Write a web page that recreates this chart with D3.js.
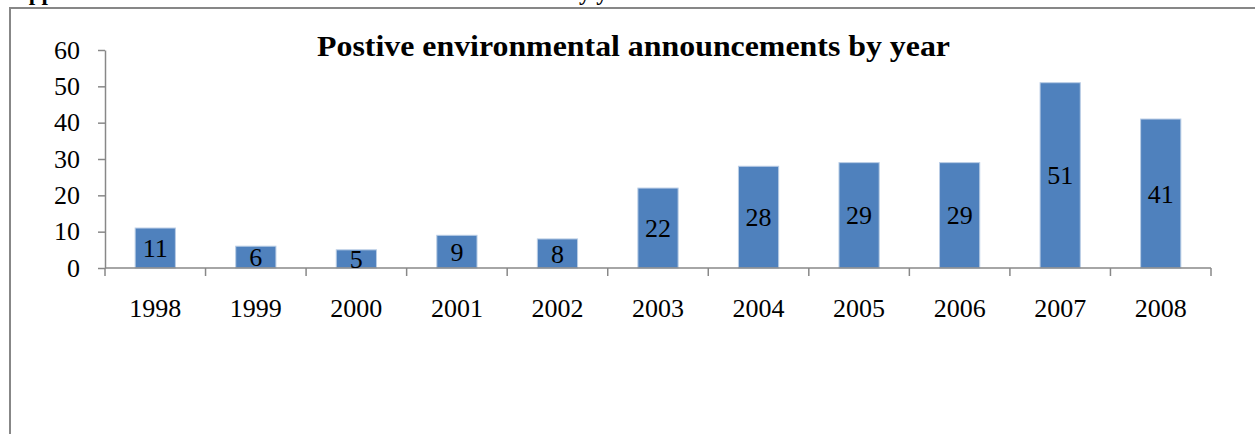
<!DOCTYPE html>
<html>
<head>
<meta charset="utf-8">
<script src="https://cdn.jsdelivr.net/npm/d3@7"></script>
<style>
  body { margin: 0; background: #fff; }
  svg text { font-family: "Liberation Serif", "Times New Roman", serif; }
</style>
</head>
<body>
<div id="myDataVis"></div>
<script>
// chart data
var years = ["1998", "1999", "2000", "2001", "2002", "2003", "2004", "2005", "2006", "2007", "2008"];
var counts = [11, 6, 5, 9, 8, 22, 28, 29, 29, 51, 41];
var yTicks = [0, 10, 20, 30, 40, 50, 60];

document.addEventListener('DOMContentLoaded', function () {
    var W = 1255, H = 434;
    var svg = d3.select('#myDataVis').append('svg')
        .attr('width', W)
        .attr('height', H);

    // heading above the frame, cut off by the page top
    svg.append('text')
        .attr('x', 12)
        .attr('y', -0.5)
        .attr('textLength', 628)
        .attr('lengthAdjust', 'spacingAndGlyphs')
        .style('font-size', '24px')
        .style('font-weight', 'bold')
        .text('Appendix C: Number of environmental announcements by year');

    // chart frame
    svg.append('rect')
        .attr('x', 10)
        .attr('y', 8)
        .attr('width', W + 20)
        .attr('height', H + 20)
        .attr('fill', 'none')
        .attr('stroke', '#878787')
        .attr('stroke-width', 2);

    var x = d3.scaleBand()
        .domain(years)
        .range([105, 1211])
        .paddingInner(0.6)
        .paddingOuter(0.3);

    var y = d3.scaleLinear()
        .domain([0, 60])
        .range([268, 50]);

    // y axis
    var yAxis = svg.append('g')
        .attr('transform', 'translate(105,0)')
        .call(d3.axisLeft(y).tickValues(yTicks).tickSize(7).tickPadding(18).tickSizeOuter(0));
    yAxis.select('.domain').attr('stroke', '#888').attr('stroke-width', 1.5);
    yAxis.selectAll('.tick line').attr('stroke', '#888').attr('stroke-width', 1.5);
    yAxis.selectAll('.tick text')
        .style('font-size', '26px')
        .attr('fill', '#000')
        .attr('font-family', null);

    // bars
    svg.selectAll('.bar')
        .data(counts)
        .enter()
        .append('rect')
        .attr('class', 'bar')
        .attr('x', function(d, i) { return x(years[i]); })
        .attr('y', function(d) { return y(d); })
        .attr('width', x.bandwidth())
        .attr('height', function(d) { return y(0) - y(d); })
        .attr('fill', '#4F81BD')
        .attr('stroke', '#B9CDE5')
        .attr('stroke-width', 1);

    // x axis (ticks at category boundaries)
    var step = (1211 - 105) / years.length;
    var xg = svg.append('g');
    xg.append('line')
        .attr('x1', 105).attr('x2', 1211)
        .attr('y1', y(0)).attr('y2', y(0))
        .attr('stroke', '#888').attr('stroke-width', 1.5);
    xg.selectAll('.xtick')
        .data(d3.range(years.length + 1))
        .enter()
        .append('line')
        .attr('x1', function(i) { return 105 + i * step; })
        .attr('x2', function(i) { return 105 + i * step; })
        .attr('y1', y(0))
        .attr('y2', y(0) + 8)
        .attr('stroke', '#888').attr('stroke-width', 1.5);
    xg.selectAll('.xlab')
        .data(years)
        .enter()
        .append('text')
        .attr('x', function(d) { return x(d) + x.bandwidth() / 2; })
        .attr('y', 317)
        .attr('text-anchor', 'middle')
        .style('font-size', '26px')
        .text(function(d) { return d; });

    // value labels centred in bars
    svg.selectAll('.val')
        .data(counts)
        .enter()
        .append('text')
        .attr('x', function(d, i) { return x(years[i]) + x.bandwidth() / 2; })
        .attr('y', function(d) { return (y(d) + y(0)) / 2; })
        .attr('dy', '0.35em')
        .attr('text-anchor', 'middle')
        .style('font-size', '26px')
        .text(function(d) { return d; });

    // title
    svg.append('text')
        .attr('x', 317)
        .attr('y', 56)
        .attr('textLength', 633)
        .attr('lengthAdjust', 'spacingAndGlyphs')
        .style('font-size', '29px')
        .style('font-weight', 'bold')
        .text('Postive environmental announcements by year');
});
</script>
</body>
</html>
